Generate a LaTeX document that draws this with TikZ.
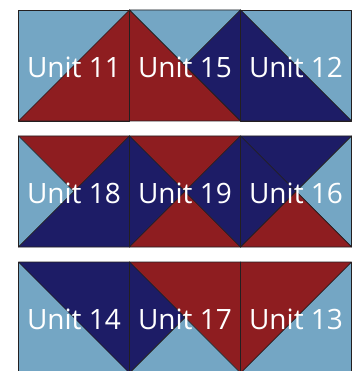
\documentclass[tikz,border=0pt]{standalone}
\usepackage{fontspec}
\setmainfont{Open Sans}
\definecolor{sky}{HTML}{74A6C4}
\definecolor{brick}{HTML}{8E1D20}
\definecolor{navy}{HTML}{1D1C66}
\definecolor{seam}{HTML}{231F20}

\tikzstyle{patch} = [draw=seam, line width=0.7pt, line join=round]
\tikzstyle{unit} = [text=white, inner sep=0pt, font=\fontsize{28}{30}\selectfont]

\begin{document}
\begin{tikzpicture}[x=1pt,y=-1pt]
\clip (0,0) rectangle (354,371);
\fill[white] (0,0) rectangle (354,371);
% row 1
\begin{scope}[shift={(18.5,10)}]
\filldraw[patch,fill=sky] (0,0) rectangle (111,111);
\filldraw[patch,fill=brick] (0,111) -- (111,0) -- (111,111) -- cycle;
\node[unit] (u11) at (55.5,57) {Unit 11};
\end{scope}
\begin{scope}[shift={(129.5,10)}]
\filldraw[patch,fill=brick] (0,0) -- (111,111) -- (0,111) -- cycle;
\filldraw[patch,fill=sky] (0,0) -- (111,0) -- (55.5,55.5) -- cycle;
\filldraw[patch,fill=navy] (111,0) -- (111,111) -- (55.5,55.5) -- cycle;
\node[unit] (u15) at (55.5,57) {Unit 15};
\end{scope}
\begin{scope}[shift={(240.5,10)}]
\filldraw[patch,fill=sky] (0,0) rectangle (111,111);
\filldraw[patch,fill=navy] (0,0) -- (111,111) -- (0,111) -- cycle;
\node[unit] (u12) at (55.5,57) {Unit 12};
\end{scope}
% row 2
\begin{scope}[shift={(18.5,136)}]
\filldraw[patch,fill=brick] (0,0) -- (111,0) -- (55.5,55.5) -- cycle;
\filldraw[patch,fill=sky] (0,0) -- (55.5,55.5) -- (0,111) -- cycle;
\filldraw[patch,fill=navy] (111,0) -- (111,111) -- (0,111) -- cycle;
\node[unit] (u18) at (55.5,57) {Unit 18};
\end{scope}
\begin{scope}[shift={(129.5,136)}]
\filldraw[patch,fill=brick] (0,0) -- (111,0) -- (55.5,55.5) -- cycle;
\filldraw[patch,fill=navy] (0,0) -- (55.5,55.5) -- (0,111) -- cycle;
\filldraw[patch,fill=brick] (0,111) -- (55.5,55.5) -- (111,111) -- cycle;
\filldraw[patch,fill=navy] (111,0) -- (111,111) -- (55.5,55.5) -- cycle;
\node[unit] (u19) at (55.5,57) {Unit 19};
\end{scope}
\begin{scope}[shift={(240.5,136)}]
\filldraw[patch,fill=navy] (0,0) -- (111,0) -- (55.5,55.5) -- (0,111) -- cycle;
\filldraw[patch,fill=sky] (111,0) -- (111,111) -- (55.5,55.5) -- cycle;
\filldraw[patch,fill=brick] (0,111) -- (55.5,55.5) -- (111,111) -- cycle;
\draw[patch] (0,0) -- (55.5,55.5);
\node[unit] (u16) at (55.5,57) {Unit 16};
\end{scope}
% row 3
\begin{scope}[shift={(18.5,262)}]
\filldraw[patch,fill=sky] (0,0) rectangle (111,111);
\filldraw[patch,fill=navy] (0,0) -- (111,0) -- (111,111) -- cycle;
\node[unit] (u14) at (55.5,57) {Unit 14};
\end{scope}
\begin{scope}[shift={(129.5,262)}]
\filldraw[patch,fill=brick] (0,0) -- (111,0) -- (111,111) -- cycle;
\filldraw[patch,fill=navy] (0,0) -- (55.5,55.5) -- (0,111) -- cycle;
\filldraw[patch,fill=sky] (0,111) -- (55.5,55.5) -- (111,111) -- cycle;
\node[unit] (u17) at (55.5,57) {Unit 17};
\end{scope}
\begin{scope}[shift={(240.5,262)}]
\filldraw[patch,fill=sky] (0,0) rectangle (111,111);
\filldraw[patch,fill=brick] (0,0) -- (111,0) -- (0,111) -- cycle;
\node[unit] (u13) at (55.5,57) {Unit 13};
\end{scope}
\end{tikzpicture}
\end{document}
